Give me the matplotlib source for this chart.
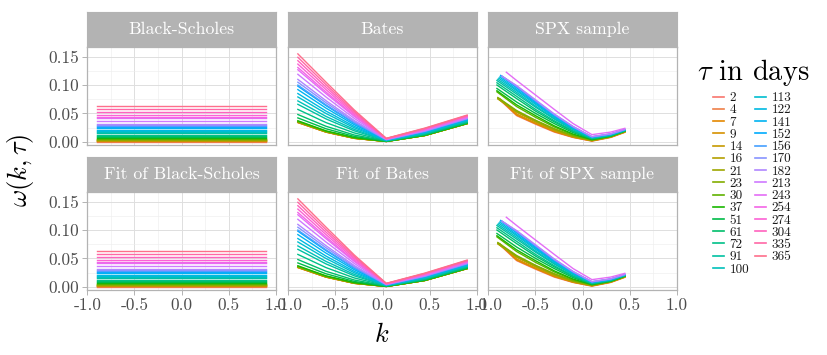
import numpy as np
import matplotlib
matplotlib.use("Agg")
import matplotlib.pyplot as plt
from matplotlib.lines import Line2D
from matplotlib.ticker import FixedLocator

plt.rcParams['font.family'] = ['cmr10', 'DejaVu Serif']
plt.rcParams['mathtext.fontset'] = 'cm'
plt.rcParams['axes.unicode_minus'] = False
plt.rcParams['axes.formatter.use_mathtext'] = True

# ---------------- data ----------------
taus = [2, 4, 7, 9, 14, 16, 21, 23, 30, 37, 51, 61, 72, 91, 100, 113, 122,
        141, 152, 156, 170, 182, 213, 243, 254, 274, 304, 335, 365]

# Black-Scholes: flat total variance per maturity
bs_k = [-0.9, 0.9]
bs_w = [0.00035, 0.0007, 0.0012, 0.0016, 0.0024, 0.0028, 0.0036, 0.0040,
        0.0052, 0.0064, 0.0088, 0.0105, 0.0124, 0.0157, 0.0173, 0.0195,
        0.0211, 0.0243, 0.0262, 0.0269, 0.0293, 0.0314, 0.0368, 0.0419,
        0.0438, 0.0473, 0.0525, 0.0578, 0.0630]

# Bates model total variance
bates_k = [-0.9, -0.6, -0.3, 0.04, 0.45, 0.9]
bates_w = [
    [0.034, 0.0170, 0.0060, 0.0005, 0.0110, 0.0320],
    [0.034, 0.0170, 0.0060, 0.0005, 0.0110, 0.0320],
    [0.034, 0.0170, 0.0060, 0.0005, 0.0110, 0.0320],
    [0.034, 0.0170, 0.0060, 0.0005, 0.0110, 0.0320],
    [0.035, 0.0177, 0.0064, 0.0005, 0.0111, 0.0321],
    [0.035, 0.0177, 0.0064, 0.0005, 0.0111, 0.0321],
    [0.035, 0.0177, 0.0064, 0.0005, 0.0111, 0.0321],
    [0.035, 0.0177, 0.0064, 0.0005, 0.0111, 0.0321],
    [0.036, 0.0185, 0.0069, 0.0006, 0.0112, 0.0323],
    [0.037, 0.0192, 0.0073, 0.0006, 0.0113, 0.0324],
    [0.042, 0.0228, 0.0093, 0.0009, 0.0119, 0.0330],
    [0.048, 0.0272, 0.0118, 0.0011, 0.0125, 0.0337],
    [0.057, 0.0337, 0.0155, 0.0015, 0.0135, 0.0349],
    [0.066, 0.0402, 0.0192, 0.0020, 0.0144, 0.0360],
    [0.072, 0.0446, 0.0217, 0.0022, 0.0151, 0.0367],
    [0.079, 0.0497, 0.0246, 0.0025, 0.0158, 0.0376],
    [0.085, 0.0540, 0.0271, 0.0028, 0.0165, 0.0383],
    [0.092, 0.0592, 0.0300, 0.0031, 0.0172, 0.0392],
    [0.098, 0.0636, 0.0325, 0.0034, 0.0179, 0.0399],
    [0.100, 0.0650, 0.0333, 0.0035, 0.0181, 0.0402],
    [0.105, 0.0687, 0.0354, 0.0037, 0.0186, 0.0408],
    [0.110, 0.0723, 0.0374, 0.0040, 0.0192, 0.0414],
    [0.119, 0.0788, 0.0411, 0.0044, 0.0201, 0.0425],
    [0.127, 0.0847, 0.0445, 0.0047, 0.0210, 0.0435],
    [0.131, 0.0876, 0.0461, 0.0049, 0.0214, 0.0440],
    [0.137, 0.0919, 0.0486, 0.0052, 0.0221, 0.0448],
    [0.143, 0.0963, 0.0511, 0.0055, 0.0227, 0.0455],
    [0.149, 0.1006, 0.0535, 0.0057, 0.0234, 0.0463],
    [0.155, 0.1050, 0.0560, 0.0060, 0.0240, 0.0470],
]

# SPX sample: maturities present, first strike / value, then values on common grid
spx_tau = [2, 7, 9, 14, 16, 21, 23, 30, 37, 51, 61, 72, 91, 100, 113, 122,
           141, 152, 156, 170, 182, 243]
spx_k0 = [-0.88, -0.88, -0.88, -0.90, -0.90, -0.90, -0.90, -0.91, -0.91, -0.91,
          -0.91, -0.91, -0.91, -0.90, -0.89, -0.88, -0.87, -0.87, -0.86, -0.86,
          -0.85, -0.81]
spx_w0 = [0.074, 0.075, 0.076, 0.0755, 0.077, 0.076, 0.078, 0.088, 0.090, 0.094,
          0.100, 0.104, 0.108, 0.110, 0.112, 0.114, 0.116, 0.117, 0.116, 0.116,
          0.115, 0.1226]
spx_k = [-0.7, -0.5, -0.3, -0.1, 0.1, 0.3, 0.45]
spx_w = [
    [0.046, 0.031, 0.017, 0.0075, 0.0010, 0.0075, 0.0165],
    [0.047, 0.032, 0.018, 0.0080, 0.0015, 0.0080, 0.0170],
    [0.049, 0.033, 0.0185, 0.0082, 0.0017, 0.0082, 0.0172],
    [0.052, 0.035, 0.020, 0.0090, 0.0020, 0.0085, 0.0175],
    [0.054, 0.036, 0.021, 0.0095, 0.0022, 0.0087, 0.0177],
    [0.053, 0.037, 0.022, 0.0100, 0.0025, 0.0090, 0.0180],
    [0.055, 0.038, 0.023, 0.0105, 0.0027, 0.0091, 0.0182],
    [0.062, 0.043, 0.026, 0.0120, 0.0033, 0.0094, 0.0185],
    [0.065, 0.046, 0.028, 0.0135, 0.0038, 0.0097, 0.0187],
    [0.070, 0.050, 0.032, 0.0160, 0.0045, 0.0100, 0.0190],
    [0.076, 0.054, 0.035, 0.0180, 0.0053, 0.0107, 0.0194],
    [0.080, 0.057, 0.037, 0.0190, 0.0058, 0.0110, 0.0197],
    [0.084, 0.061, 0.040, 0.0210, 0.0065, 0.0118, 0.0200],
    [0.087, 0.063, 0.041, 0.0220, 0.0068, 0.0120, 0.0203],
    [0.090, 0.066, 0.043, 0.0230, 0.0073, 0.0124, 0.0206],
    [0.092, 0.068, 0.044, 0.0240, 0.0076, 0.0127, 0.0208],
    [0.095, 0.070, 0.046, 0.0250, 0.0080, 0.0130, 0.0210],
    [0.096, 0.071, 0.047, 0.0255, 0.0083, 0.0133, 0.0212],
    [0.097, 0.072, 0.0475, 0.0260, 0.0085, 0.0135, 0.0214],
    [0.098, 0.073, 0.048, 0.0265, 0.0088, 0.0138, 0.0216],
    [0.099, 0.074, 0.049, 0.0270, 0.0090, 0.0140, 0.0218],
    [0.108, 0.0825, 0.057, 0.0320, 0.0125, 0.0170, 0.0236],
]

titles = [["Black-Scholes", "Bates", "SPX sample"],
          ["Fit of Black-Scholes", "Fit of Bates", "Fit of SPX sample"]]
x_ticks = [-1.0, -0.5, 0.0, 0.5, 1.0]
x_ticklabels = ["-1.0", "-0.5", "0.0", "0.5", "1.0"]
y_ticks = [0.00, 0.05, 0.10, 0.15]
y_ticklabels = ["0.00", "0.05", "0.10", "0.15"]


# ---------------- colours (ggplot hue palette) ----------------
def hcl_to_rgb(h, c=100.0, l=65.0):
    hr = np.deg2rad(h)
    U = c * np.cos(hr)
    V = c * np.sin(hr)
    Y = 100.0 * ((l + 16.0) / 116.0) ** 3
    un, vn = 0.1978398, 0.4683363
    u = U / (13.0 * l) + un
    v = V / (13.0 * l) + vn
    X = 9.0 * Y * u / (4.0 * v)
    Z = -X / 3.0 - 5.0 * Y + 3.0 * Y / v
    X, Y, Z = X / 100.0, Y / 100.0, Z / 100.0
    r = 3.240479 * X - 1.537150 * Y - 0.498535 * Z
    g = -0.969256 * X + 1.875992 * Y + 0.041556 * Z
    b = 0.055648 * X - 0.204043 * Y + 1.057311 * Z

    def gam(t):
        t = 1.055 * t ** (1 / 2.4) - 0.055 if t > 0.00304 else 12.92 * t
        return min(max(t, 0.0), 1.0)
    return (gam(r), gam(g), gam(b))


n = len(taus)
hues = np.linspace(15, 375, n + 1)[:n]
colors = [hcl_to_rgb(h) for h in hues]
col_of = dict(zip(taus, colors))

# ---------------- layout ----------------
W, H = 827, 355
fig = plt.figure(figsize=(W / 100, H / 100), dpi=100)
col_x = [87, 288, 488]
pw = 189
strip_top = [11.7, 156.7]
strip_h = 35
ph = 98.3

GREY70 = '#B3B3B3'


def rect(x, ytop, w, h):
    return [x / W, 1 - (ytop + h) / H, w / W, h / H]


axes = {}
for r in range(2):
    for c in range(3):
        sax = fig.add_axes(rect(col_x[c], strip_top[r], pw, strip_h))
        sax.set_facecolor(GREY70)
        sax.set_xticks([]); sax.set_yticks([])
        for s in sax.spines.values():
            s.set_color(GREY70)
        sax.text(0.5, 0.5, titles[r][c], color='white', fontsize=12.8,
                 ha='center', va='center', transform=sax.transAxes)

        ax = fig.add_axes(rect(col_x[c], strip_top[r] + strip_h, pw, ph))
        axes[(r, c)] = ax
        ax.set_xlim(-1.005, 1.005)
        ax.set_ylim(-0.0058, 0.1677)
        ax.xaxis.set_major_locator(FixedLocator(x_ticks))
        ax.yaxis.set_major_locator(FixedLocator(y_ticks))
        ax.xaxis.set_minor_locator(FixedLocator([-0.75, -0.25, 0.25, 0.75]))
        ax.yaxis.set_minor_locator(FixedLocator([0.025, 0.075, 0.125]))
        ax.grid(True, which='major', color='#DEDEDE', lw=0.7)
        ax.grid(True, which='minor', color='#EDEDED', lw=0.4)
        ax.set_axisbelow(True)
        for s in ax.spines.values():
            s.set_color(GREY70)
            s.set_linewidth(0.9)
        ax.tick_params(which='minor', length=0)
        ax.tick_params(which='major', length=3.5, width=0.7, color=GREY70,
                       labelsize=12.5, labelcolor='#4D4D4D', pad=2)
        if r == 1:
            ax.set_xticklabels(x_ticklabels)
        else:
            ax.tick_params(axis='x', which='major', length=0, labelbottom=False)
        if c == 0:
            ax.set_yticklabels(y_ticklabels)
        else:
            ax.tick_params(axis='y', which='major', length=0, labelleft=False)

LW = 1.0
for r in range(2):
    # Black-Scholes
    ax = axes[(r, 0)]
    for t, w in zip(taus, bs_w):
        ax.plot(bs_k, [w, w], color=col_of[t], lw=LW)
    # Bates
    ax = axes[(r, 1)]
    for t, ws in zip(taus, bates_w):
        ax.plot(bates_k, ws, color=col_of[t], lw=LW)
    # SPX sample
    ax = axes[(r, 2)]
    for t, k0, w0, ws in zip(spx_tau, spx_k0, spx_w0, spx_w):
        ax.plot([k0] + spx_k, [w0] + ws, color=col_of[t], lw=LW)

# axis titles
fig.text(381.5 / W, 1 - 335 / H, r'$k$', fontsize=19, ha='center', va='center')
fig.text(21 / W, 1 - 170 / H, r'$\omega(k,\tau)$', fontsize=19, ha='center',
         va='center', rotation=90)

# legend
fig.text(697 / W, 1 - 72 / H, r'$\tau$ in days', fontsize=20.5, ha='left',
         va='center')
handles = [Line2D([], [], color=col_of[t], lw=1.2) for t in taus]
labels = [str(t) for t in taus]
fig.legend(handles, labels, loc='upper left',
           bbox_to_anchor=(713 / W, 1 - 92 / H), ncol=2, frameon=False,
           fontsize=9.5, handlelength=0.8, handletextpad=0.45,
           columnspacing=0.45, labelspacing=0.0, borderpad=0, borderaxespad=0,
           labelcolor='#1A1A1A')

fig.savefig('out.png', dpi=100)
